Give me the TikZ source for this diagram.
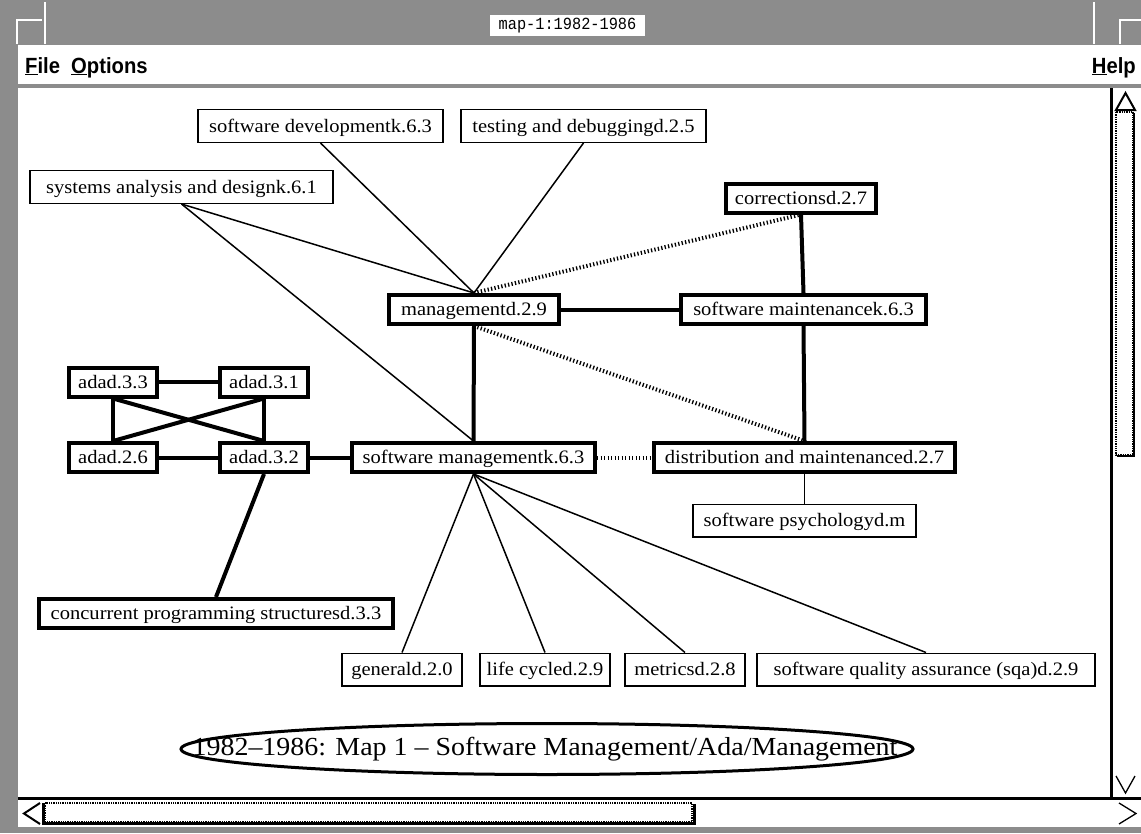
\documentclass[tikz,border=0pt]{standalone}
\usepackage{fontspec}
\usetikzlibrary{shapes.geometric}
\newfontfamily\nodefont[FakeStretch=1.08,Ligatures=TeX]{Liberation Serif}
\newfontfamily\capfont[FakeStretch=1.075,Ligatures=TeX]{Liberation Serif}
\newfontfamily\menufont[FakeStretch=0.92]{Liberation Sans}
\newfontfamily\wintitlefont[FakeStretch=0.9]{Liberation Mono}
\definecolor{chrome}{HTML}{8C8C8C}
\tikzset{
  thinbox/.style={draw, line width=1.3pt, fill=white, inner sep=0pt, text height=16pt, text depth=4pt, minimum height=32.7pt, font=\nodefont\fontsize{19}{21}\selectfont},
  thickbox/.style={draw, line width=4pt, fill=white, inner sep=0pt, text height=16pt, text depth=4pt, minimum height=29pt, font=\nodefont\fontsize{19}{21}\selectfont},
  thinline/.style={line width=1.5pt},
  thickline/.style={line width=4pt},
  hatchline/.style={line width=4pt, dash pattern=on 1.3pt off 2.2pt},
  menuitem/.style={font=\menufont\bfseries\fontsize{22}{24}\selectfont, inner sep=0pt, anchor=base west},
}
\begin{document}
\begin{tikzpicture}[x=1pt,y=-1pt]
\useasboundingbox (0,0) rectangle (1141,833);
% ---------- window chrome ----------
\fill[chrome] (0,0) rectangle (1141,833);
\draw[white, line width=1.5pt] (45,2) -- (45,44);
\draw[white, line width=1.5pt] (17,44) -- (17,20) -- (42,20);
\draw[white, line width=1.5pt] (1094,2) -- (1094,44);
\draw[white, line width=1.5pt] (1120,44) -- (1120,20) -- (1141,20);
\node[fill=white, inner sep=0pt, minimum width=155pt, minimum height=21pt, font=\wintitlefont\fontsize{17}{18}\selectfont] (wintitle) at (567.5,25.5) {map-1:1982-1986};
% menu bar
\fill[white] (18,45) rectangle (1141,84);
\node[menuitem] (mfile) at (25,73) {\underline{F}ile};
\node[menuitem] (mopt) at (71,73) {\underline{O}ptions};
\node[menuitem, anchor=base east] (mhelp) at (1136,73) {\underline{H}elp};
% canvas
\fill[white] (18,88) rectangle (1110,797);
% vertical scrollbar
\fill[white] (1110,88) rectangle (1141,797);
\draw[line width=3pt] (1111.5,88) -- (1111.5,797);
\draw[line width=2pt] (1116,110) -- (1125.5,93) -- (1135,110) -- cycle;
\draw[line width=1.3pt, densely dotted] (1116,112) rectangle (1133,455);
\draw[line width=2.5pt] (1134,113) -- (1134,456) -- (1117,456);
\draw[line width=1.3pt] (1116,776) -- (1125.5,793) -- (1135,776);
% horizontal scrollbar
\fill[white] (18,797) rectangle (1141,827);
\draw[line width=3pt] (18,798.5) -- (1141,798.5);
\draw[line width=2pt] (40,803) -- (24,813.5) -- (40,824);
\draw[line width=3pt] (43.5,803) -- (43.5,825);
\draw[line width=1.3pt, densely dotted] (45,803) rectangle (692,822);
\draw[line width=3pt] (45,823.5) -- (694.5,823.5) -- (694.5,804);
\draw[line width=1.3pt] (1119,803) -- (1136,813.5) -- (1119,824);
% ---------- nodes ----------
\node[thinbox, minimum width=245pt] (sdev) at (320.5,126) {software developmentk.6.3};
\node[thinbox, minimum width=245pt] (test) at (583.5,126) {testing and debuggingd.2.5};
\node[thinbox, minimum width=303pt] (sys) at (181.5,187) {systems analysis and designk.6.1};
\node[thickbox, minimum width=150pt] (corr) at (801,198) {correctionsd.2.7};
\node[thickbox, minimum width=170pt] (mgmt) at (474,309.5) {managementd.2.9};
\node[thickbox, minimum width=245pt] (smaint) at (803.5,309.5) {software maintenancek.6.3};
\node[thickbox, minimum width=88pt] (a33) at (113,382) {adad.3.3};
\node[thickbox, minimum width=88pt] (a31) at (264,382) {adad.3.1};
\node[thickbox, minimum width=88pt] (a26) at (113,457.5) {adad.2.6};
\node[thickbox, minimum width=88pt] (a32) at (264,457.5) {adad.3.2};
\node[thickbox, minimum width=243pt] (sman) at (473.5,457.5) {software managementk.6.3};
\node[thickbox, minimum width=301pt] (distr) at (804.5,457.5) {distribution and maintenanced.2.7};
\node[thinbox, minimum width=223pt] (psych) at (804.5,520.5) {software psychologyd.m};
\node[thickbox, minimum width=354pt] (conc) at (216,613.5) {concurrent programming structuresd.3.3};
\node[thinbox, minimum width=120pt] (gen) at (402,669.5) {generald.2.0};
\node[thinbox, minimum width=130pt] (life) at (545,669.5) {life cycled.2.9};
\node[thinbox, minimum width=120pt] (metr) at (685,669.5) {metricsd.2.8};
\node[thinbox, minimum width=338pt] (sqa) at (926,669.5) {software quality assurance (sqa)d.2.9};
\node[ellipse, draw, line width=3pt, fill=white, inner sep=0pt, minimum width=732pt, minimum height=51pt] (maptitle) at (547,749) {};
\node[inner sep=0pt, font=\capfont\fontsize{26}{28}\selectfont] (maptitletext) at ([xshift=-2pt]maptitle.center) {1982–1986: Map 1 – Software Management/Ada/Management};
% ---------- connectors ----------
\draw[thinline] (sdev.south) -- (mgmt.north);
\draw[thinline] (test.south) -- (mgmt.north);
\draw[thinline] (sys.south) -- (mgmt.north);
\draw[thinline] (sys.south) -- (sman.north);
\draw[hatchline] (mgmt.north) -- (corr.south);
\draw[thickline] (mgmt.east) -- (smaint.west);
\draw[thickline] (corr.south) -- (smaint.north);
\draw[thickline] (smaint.south) -- (distr.north);
\draw[hatchline] (mgmt.south) -- (distr.north);
\draw[thickline] (mgmt.south) -- (sman.north);
\draw[hatchline] (sman.east) -- (distr.west);
\draw[thinline] (distr.south) -- (psych.north);
\draw[thickline] (a33.east) -- (a31.west);
\draw[thickline] (a26.east) -- (a32.west);
\draw[thickline] (a32.east) -- (sman.west);
\draw[thickline] (a33.south) -- (a26.north);
\draw[thickline] (a33.south) -- (a32.north);
\draw[thickline] (a31.south) -- (a26.north);
\draw[thickline] (a31.south) -- (a32.north);
\draw[thickline] (a32.south) -- (conc.north);
\draw[thinline] (sman.south) -- (gen.north);
\draw[thinline] (sman.south) -- (life.north);
\draw[thinline] (sman.south) -- (metr.north);
\draw[thinline] (sman.south) -- (sqa.north);
\end{tikzpicture}
\end{document}
